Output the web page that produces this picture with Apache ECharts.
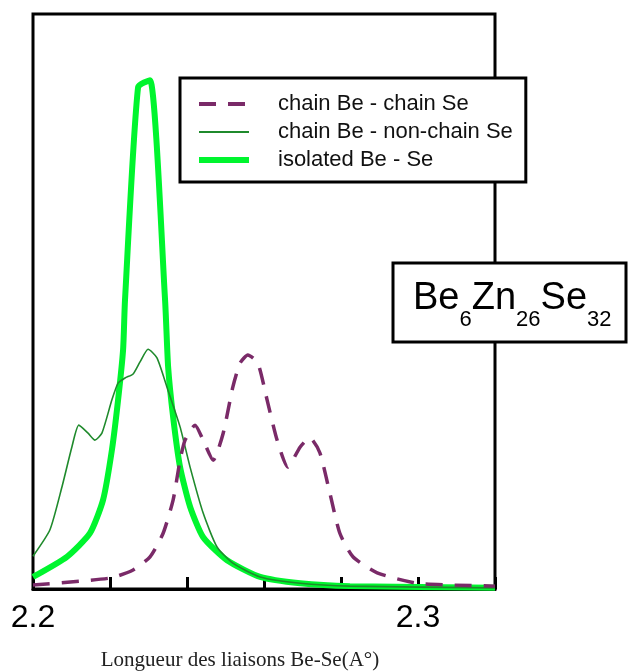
<!DOCTYPE html>
<html><head><meta charset="utf-8">
<script src="https://cdn.jsdelivr.net/npm/echarts@6/dist/echarts.min.js"></script>
<style>html,body{margin:0;padding:0;background:#fff}#c{width:628px;height:671px}</style>
</head><body><div id="c"></div>
<script>
// ---- data ----
const seriesNames = ['chain Be - chain Se', 'chain Be - non-chain Se', 'isolated Be - Se'];

const chainChainX = [2.2000, 2.2200, 2.2260, 2.2304, 2.2338, 2.2364, 2.2382, 2.2395, 2.2421, 2.2442, 2.2468, 2.2494, 2.2519, 2.2538, 2.2558, 2.2584, 2.2608, 2.2634, 2.2662, 2.2694, 2.2719, 2.2745, 2.2771, 2.2797, 2.2831, 2.2894, 2.2997, 2.3083, 2.3200];
const chainChainY = [0.7, 1.9, 3.3, 5.6, 9.7, 15.5, 22.4, 25.9, 28.5, 25.9, 22.4, 27.1, 35.1, 39.3, 40.7, 39.3, 32.9, 25.9, 21.2, 24.7, 26.3, 23.7, 16.7, 9.7, 5.6, 2.8, 1.0, 0.7, 0.5];

const chainNonChainX = [2.2000, 2.2044, 2.2075, 2.2101, 2.2119, 2.2143, 2.2161, 2.2179, 2.2205, 2.2221, 2.2239, 2.2260, 2.2278, 2.2299, 2.2322, 2.2348, 2.2382, 2.2408, 2.2442, 2.2478, 2.2519, 2.2590, 2.2694, 2.2823, 2.3200];
const chainNonChainY = [5.7, 10.3, 17.7, 24.7, 28.5, 27.1, 25.9, 27.1, 32.9, 35.8, 36.7, 37.4, 39.5, 41.7, 40.2, 35.1, 28.2, 21.2, 13.2, 7.3, 4.5, 2.1, 1.0, 0.5, 0.2];

const isolatedX = [2.2000, 2.2088, 2.2148, 2.2182, 2.2205, 2.2221, 2.2234, 2.2239, 2.2273, 2.2304, 2.2343, 2.2351, 2.2364, 2.2382, 2.2408, 2.2442, 2.2504, 2.2590, 2.2694, 2.2823, 2.3200];
const isolatedY = [2.1, 5.6, 9.7, 15.5, 24.2, 32.9, 41.6, 50.3, 87.3, 88.5, 50.3, 38.6, 29.9, 21.2, 14.3, 9.0, 5.0, 2.1, 1.0, 0.5, 0.2];

const xTickLabels = ['2.2', '2.3'];
const formulaParts = [['Be', '6'], ['Zn', '26'], ['Se', '32']];
const xAxisTitle = 'Longueur des liaisons Be-Se(A°)';

// ---- build ----
const pairs = (xs, ys) => xs.map((x, i) => [x, ys[i]]);
const SANS = '"Liberation Sans", Arial, sans-serif';
const PURPLE = '#7a2a68', DKGREEN = '#1f8a2c', LTGREEN = '#00f52e';
const DASH = [17, 12];

const ctx = document.createElement('canvas').getContext('2d');
function tw(t, s) { ctx.font = s + 'px "Liberation Sans"'; return ctx.measureText(t).width; }

const formulaEls = [{
  type: 'rect', shape: { x: 393, y: 263, width: 233, height: 79 },
  style: { fill: '#fff', stroke: '#000', lineWidth: 3 }
}];
let cx = 413;
formulaParts.forEach(([m, s]) => {
  formulaEls.push({ type: 'text', x: cx, y: 299, style: { text: m, fontSize: 38, fontFamily: SANS, fill: '#000', align: 'left', verticalAlign: 'middle' } });
  cx += tw(m, 38);
  formulaEls.push({ type: 'text', x: cx, y: 320, style: { text: s, fontSize: 22, fontFamily: SANS, fill: '#000', align: 'left', verticalAlign: 'middle' } });
  cx += tw(s, 22);
});

const noSym = { opacity: 0, borderWidth: 0 };
const chart = echarts.init(document.getElementById('c'), null, { renderer: 'canvas' });
chart.setOption({
  animation: false,
  backgroundColor: '#fff',
  grid: { left: 33, right: 133, top: 14, bottom: 82, show: true, borderColor: '#000', borderWidth: 3, containLabel: false, outerBoundsMode: 'none' },
  xAxis: {
    type: 'value', min: 2.2, max: 2.32, interval: 0.02,
    axisLine: { show: true, lineStyle: { color: '#000', width: 3 } },
    axisTick: { show: true, inside: true, length: 12, lineStyle: { color: '#000', width: 3 } },
    splitLine: { show: false },
    axisLabel: {
      margin: 13, fontSize: 32, fontFamily: SANS, color: '#000',
      formatter: v => xTickLabels.find(t => Math.abs(parseFloat(t) - v) < 1e-6) || ''
    },
    name: xAxisTitle, nameLocation: 'middle', nameGap: 61,
    nameTextStyle: { fontFamily: '"Liberation Serif", "Times New Roman", serif', fontSize: 21, color: '#222', padding: [0, 48, 0, 0] }
  },
  yAxis: {
    type: 'value', min: 0, max: 100,
    axisLine: { show: false }, axisTick: { show: false }, axisLabel: { show: false }, splitLine: { show: false }
  },
  legend: {
    orient: 'vertical', left: 180, top: 78,
    data: [
      { name: seriesNames[0], itemStyle: noSym, lineStyle: { color: PURPLE, width: 4, type: DASH } },
      { name: seriesNames[1], itemStyle: noSym, lineStyle: { color: DKGREEN, width: 1.8 } },
      { name: seriesNames[2], itemStyle: noSym, lineStyle: { color: LTGREEN, width: 6 } }
    ],
    itemWidth: 50, itemHeight: 14, itemGap: 6,
    padding: [15, 13, 11, 16],
    backgroundColor: '#fff', borderColor: '#000', borderWidth: 3,
    textStyle: { fontFamily: SANS, fontSize: 22, color: '#111', padding: [0, 0, 0, 24], lineHeight: 20 },
    selectedMode: false, z: 10
  },
  series: [
    { name: seriesNames[2], type: 'line', data: pairs(isolatedX, isolatedY), symbol: 'none', smooth: 0.2, lineStyle: { color: LTGREEN, width: 6 }, itemStyle: { color: LTGREEN }, z: 2 },
    { name: seriesNames[1], type: 'line', data: pairs(chainNonChainX, chainNonChainY), symbol: 'none', smooth: 0.2, lineStyle: { color: DKGREEN, width: 1.6 }, itemStyle: { color: DKGREEN }, z: 3 },
    { name: seriesNames[0], type: 'line', data: pairs(chainChainX, chainChainY), symbol: 'none', smooth: 0.2, lineStyle: { color: PURPLE, width: 3.5, type: DASH }, itemStyle: { color: PURPLE }, z: 4 }
  ],
  graphic: [{ type: 'group', z: 20, children: formulaEls }]
});
</script>
</body></html>
